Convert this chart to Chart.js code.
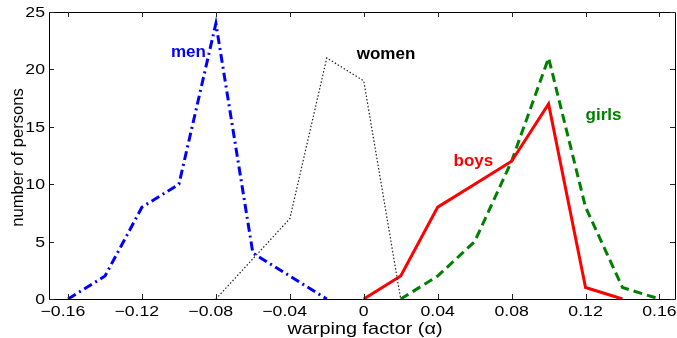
<!DOCTYPE html>
<html>
<head>
<meta charset="utf-8">
<script src="https://cdn.jsdelivr.net/npm/chart.js@4/dist/chart.umd.min.js"></script>
<style>
html,body{margin:0;padding:0;background:#fff;}
#wrap{width:677px;height:338px;position:relative;}
</style>
</head>
<body>
<div id="wrap"><canvas id="c" width="677" height="338"></canvas></div>
<script>
// ---- data ----
const menX   = [-0.16, -0.14, -0.12, -0.10, -0.08, -0.06, -0.04, -0.02];
const menY   = [0, 2, 8, 10, 24, 4, 2, 0];
const womenX = [-0.08, -0.06, -0.04, -0.02, 0, 0.02];
const womenY = [0, 3.5, 7, 21, 19, 0];
const boysX  = [0, 0.02, 0.04, 0.06, 0.08, 0.10, 0.12, 0.14];
const boysY  = [0, 2, 8, 10, 12, 17, 1, 0];
const girlsX = [0.02, 0.04, 0.06, 0.08, 0.10, 0.12, 0.14, 0.16];
const girlsY = [0, 2, 5, 12, 21, 8, 1, 0];
const xTicks = [-0.16, -0.12, -0.08, -0.04, 0, 0.04, 0.08, 0.12, 0.16];
const xTickLabels = ['\u22120.16','\u22120.12','\u22120.08','\u22120.04','0','0.04','0.08','0.12','0.16'];
const yTicks = [0, 5, 10, 15, 20, 25];
const yTickLabels = ['0', '5', '10', '15', '20', '25'];
const seriesNames = ['men', 'women', 'boys', 'girls'];
const xTitle = 'warping factor (\u03b1)';
const yTitle = 'number of persons';

const pts = (xs, ys) => xs.map((x, i) => ({x: x, y: ys[i]}));

// series label anchors (left/baseline), in data units
const labelPlacement = [
  {name: seriesNames[0], x: -0.1043, y: 21.1, color: '#0000ff'},
  {name: seriesNames[1], x: -0.0038, y: 20.9, color: '#000000'},
  {name: seriesNames[2], x: 0.0486,  y: 11.6, color: '#ff0000'},
  {name: seriesNames[3], x: 0.1200,  y: 15.55, color: '#008000'}
];

const FONT = '"Liberation Sans", Arial, Helvetica, sans-serif';
const SX = 1.22;   // horizontal stretch of tick text as in the reference

const framePlugin = {
  id: 'frame',
  afterDatasetsDraw(chart) {
    const ctx = chart.ctx, a = chart.chartArea;
    const xs = chart.scales.x, ys = chart.scales.y;
    ctx.save();
    ctx.strokeStyle = '#000';
    ctx.lineWidth = 1;
    ctx.beginPath();
    ctx.rect(Math.round(a.left) + 0.5, Math.round(a.top) + 0.5, Math.round(a.right - a.left), Math.round(a.bottom - a.top));
    ctx.stroke();
    const L = 5;
    ctx.strokeStyle = '#222';
    ctx.beginPath();
    xTicks.forEach(v => {
      const px = Math.round(xs.getPixelForValue(v)) + 0.5;
      ctx.moveTo(px, a.bottom); ctx.lineTo(px, a.bottom - L);
      ctx.moveTo(px, a.top); ctx.lineTo(px, a.top + L);
    });
    yTicks.forEach(v => {
      const py = Math.round(ys.getPixelForValue(v)) + 0.5;
      ctx.moveTo(a.left, py); ctx.lineTo(a.left + L, py);
      ctx.moveTo(a.right, py); ctx.lineTo(a.right - L, py);
    });
    ctx.stroke();

    // tick labels
    ctx.fillStyle = '#000';
    ctx.font = '14.5px ' + FONT;
    ctx.textBaseline = 'alphabetic';
    ctx.textAlign = 'left';
    xTicks.forEach((v, i) => {
      const s = xTickLabels[i];
      const neg = s.charAt(0) === '\u2212';
      const num = neg ? s.slice(1) : s;
      const wNum = ctx.measureText(num).width * SX;
      const wMinus = neg ? ctx.measureText('\u2212').width * SX : 0;
      const px = xs.getPixelForValue(v);
      ctx.save();
      ctx.translate(px - wNum / 2 - wMinus, a.bottom + 17);
      ctx.scale(SX, 1);
      ctx.fillText(s, 0, 0);
      ctx.restore();
    });
    ctx.textAlign = 'right';
    ctx.textBaseline = 'middle';
    yTicks.forEach((v, i) => {
      const py = ys.getPixelForValue(v);
      ctx.save();
      ctx.translate(a.left - 4, py + 1);
      ctx.scale(SX, 1);
      ctx.fillText(yTickLabels[i], 0, 0);
      ctx.restore();
    });

    // axis titles
    ctx.textAlign = 'center';
    ctx.textBaseline = 'alphabetic';
    ctx.font = '17px ' + FONT;
    ctx.save();
    ctx.translate(365, 334);
    ctx.scale(1.17, 1);
    ctx.fillText(xTitle, 0, 0);
    ctx.restore();
    ctx.font = '16px ' + FONT;
    ctx.save();
    ctx.translate(23, (a.top + a.bottom) / 2 + 2);
    ctx.rotate(-Math.PI / 2);
    ctx.scale(1.04, 1);
    ctx.fillText(yTitle, 0, 0);
    ctx.restore();

    // series labels
    ctx.font = 'bold 17px ' + FONT;
    ctx.textAlign = 'left';
    ctx.textBaseline = 'alphabetic';
    labelPlacement.forEach(l => {
      ctx.fillStyle = l.color;
      ctx.fillText(l.name, xs.getPixelForValue(l.x), ys.getPixelForValue(l.y));
    });
    ctx.restore();
  }
};

new Chart(document.getElementById('c'), {
  type: 'line',
  data: {
    datasets: [
      {label: seriesNames[0], data: pts(menX, menY), borderColor: '#0000ff', borderWidth: 3, borderDash: [9, 4, 2, 4], pointRadius: 0, tension: 0, fill: false},
      {label: seriesNames[1], data: pts(womenX, womenY), borderColor: '#222222', borderWidth: 1.2, borderDash: [1.5, 2], pointRadius: 0, tension: 0, fill: false},
      {label: seriesNames[2], data: pts(boysX, boysY), borderColor: '#ff0000', borderWidth: 3, pointRadius: 0, tension: 0, fill: false},
      {label: seriesNames[3], data: pts(girlsX, girlsY), borderColor: '#008000', borderWidth: 3, borderDash: [9, 5], pointRadius: 0, tension: 0, fill: false}
    ]
  },
  options: {
    responsive: false,
    animation: false,
    layout: {padding: {top: 12, right: 2, left: 0, bottom: 0}},
    plugins: {legend: {display: false}, tooltip: {enabled: false}},
    scales: {
      x: {
        type: 'linear', min: -0.1703, max: 0.1684,
        afterBuildTicks: s => { s.ticks = xTicks.map(v => ({value: v})); },
        afterFit: s => { s.height = 39; },
        grid: {display: false, drawTicks: false},
        border: {display: false},
        ticks: {display: false},
        title: {display: false}
      },
      y: {
        type: 'linear', min: 0, max: 25,
        afterBuildTicks: s => { s.ticks = yTicks.map(v => ({value: v})); },
        afterFit: s => { s.width = 49; },
        grid: {display: false, drawTicks: false},
        border: {display: false},
        ticks: {display: false},
        title: {display: false}
      }
    }
  },
  plugins: [framePlugin]
});
</script>
</body>
</html>
